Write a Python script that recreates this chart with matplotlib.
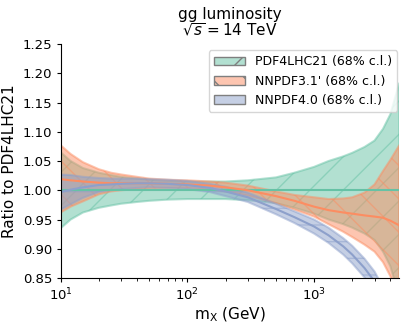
import matplotlib
matplotlib.use("Agg")
import matplotlib.pyplot as plt
from matplotlib.patches import Patch

# mass grid (GeV)
mx = [10, 12, 15, 20, 25, 30, 40, 50, 70, 100, 150, 200, 300, 500, 700,
      1000, 1300, 1700, 2000, 2500, 3000, 3500, 4000, 4700]

# PDF4LHC21 band (ratio to itself)
pdf4lhc_lo = [0.935, 0.950, 0.962, 0.970, 0.974, 0.977, 0.980, 0.982, 0.984, 0.985, 0.985, 0.985,
              0.983, 0.978, 0.970, 0.960, 0.950, 0.942, 0.936, 0.926, 0.915, 0.895, 0.870, 0.817]
pdf4lhc_mid = [1.0] * 24
pdf4lhc_hi = [1.065, 1.050, 1.038, 1.030, 1.026, 1.023, 1.020, 1.018, 1.016, 1.015, 1.015, 1.015,
              1.017, 1.022, 1.030, 1.040, 1.050, 1.058, 1.064, 1.074, 1.085, 1.105, 1.130, 1.183]

# NNPDF3.1'
nn31_lo = [0.962, 0.972, 0.981, 0.993, 0.998, 1.000, 1.002, 1.003, 1.004, 1.004, 1.001, 0.998,
           0.991, 0.978, 0.967, 0.955, 0.942, 0.929, 0.920, 0.907, 0.895, 0.877, 0.853, 0.815]
nn31_mid = [1.019, 1.017, 1.015, 1.013, 1.012, 1.012, 1.012, 1.012, 1.011, 1.010, 1.008, 1.005,
            1.000, 0.990, 0.982, 0.972, 0.966, 0.962, 0.960, 0.957, 0.955, 0.953, 0.948, 0.940]
nn31_hi = [1.077, 1.062, 1.048, 1.036, 1.030, 1.027, 1.023, 1.020, 1.018, 1.017, 1.015, 1.013,
           1.008, 0.998, 0.992, 0.988, 0.985, 0.986, 0.988, 0.996, 1.010, 1.033, 1.052, 1.077]

# NNPDF4.0
nn40_lo = [0.967, 0.976, 0.987, 0.997, 1.000, 1.002, 1.004, 1.005, 1.004, 1.002, 0.997, 0.990,
           0.980, 0.959, 0.944, 0.926, 0.910, 0.890, 0.875, 0.851, 0.827, 0.798, 0.767, 0.726]
nn40_mid = [0.997, 1.001, 1.005, 1.009, 1.010, 1.011, 1.012, 1.012, 1.011, 1.009, 1.004, 0.998,
            0.988, 0.968, 0.954, 0.938, 0.923, 0.904, 0.890, 0.867, 0.844, 0.816, 0.786, 0.746]
nn40_hi = [1.027, 1.026, 1.023, 1.021, 1.020, 1.020, 1.020, 1.019, 1.018, 1.016, 1.011, 1.006,
           0.996, 0.977, 0.964, 0.950, 0.936, 0.918, 0.905, 0.883, 0.861, 0.834, 0.805, 0.766]

labels = ["PDF4LHC21 (68% c.l.)", "NNPDF3.1' (68% c.l.)", "NNPDF4.0 (68% c.l.)"]
colors = ["#66c2a5", "#fc8d62", "#8da0cb"]
hatches = ["/", "\\", "-"]

bands = [(pdf4lhc_lo, pdf4lhc_mid, pdf4lhc_hi),
         (nn31_lo, nn31_mid, nn31_hi),
         (nn40_lo, nn40_mid, nn40_hi)]

fig = plt.figure(figsize=(4.07, 3.24), dpi=100)
ax = fig.add_axes([0.149, 0.142, 0.832, 0.722])

handles = []
for (lo, mid, hi), c, h, lab in zip(bands, colors, hatches, labels):
    ax.fill_between(mx, lo, hi, facecolor=c, edgecolor=c, hatch=h, alpha=0.5, lw=1.5)
    ax.plot(mx, mid, color=c, lw=1.5)
    handles.append(Patch(facecolor=(*matplotlib.colors.to_rgb(c), 0.5),
                         edgecolor="#7f7f7f", hatch=h, label=lab))

ax.set_xscale("log")
ax.set_xlim(10, 4700)
ax.set_ylim(0.85, 1.25)
ax.set_yticks([0.85, 0.90, 0.95, 1.00, 1.05, 1.10, 1.15, 1.20, 1.25])
ax.spines["top"].set_visible(False)
ax.spines["right"].set_visible(False)
ax.tick_params(which="major", length=3, pad=3, labelsize=9.5)
ax.tick_params(which="minor", length=2)

ax.set_xlabel(r"m$_\mathrm{X}$ (GeV)", fontsize=11, labelpad=2)
ax.set_ylabel("Ratio to PDF4LHC21", fontsize=11)
ax.set_title("gg luminosity\n" + r"$\sqrt{s} = 14$ TeV", fontsize=11, linespacing=1.0)
ax.legend(handles=handles, loc="upper right", fontsize=9, handlelength=2.5,
          bbox_to_anchor=(1.012, 1.0))

fig.savefig("out.png", dpi=100)
